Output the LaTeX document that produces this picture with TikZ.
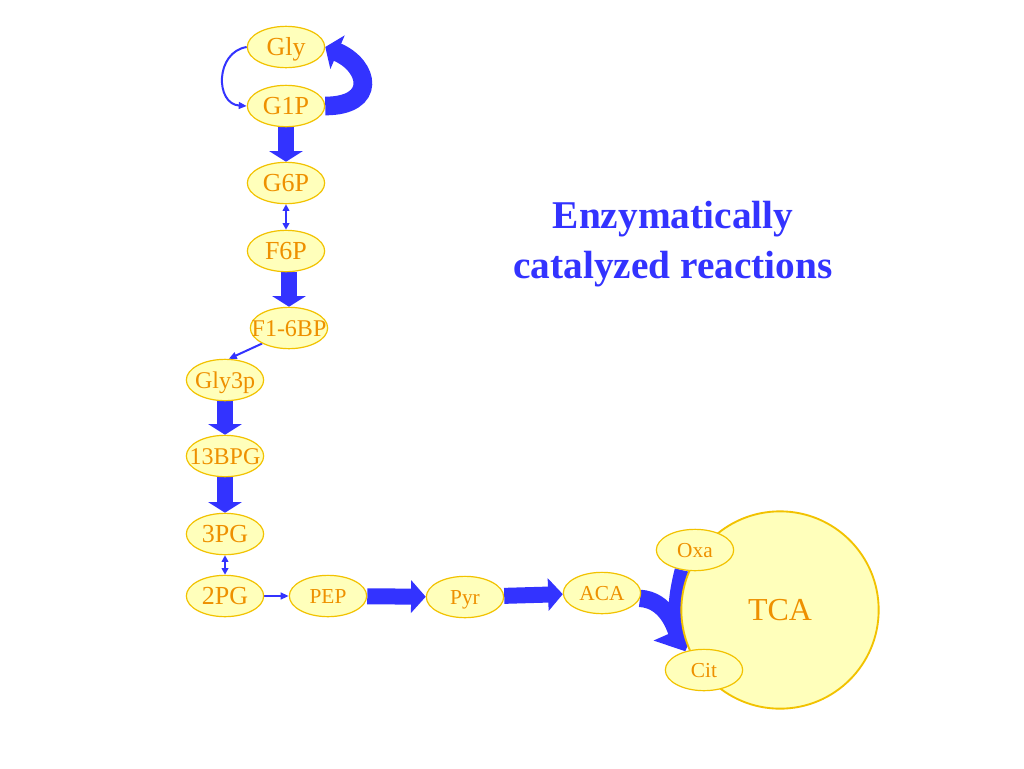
\documentclass[tikz,border=0pt]{standalone}
\usepackage{fontspec}
\setmainfont{Liberation Serif}
\usetikzlibrary{shapes.geometric,arrows.meta}
\definecolor{nodefill}{RGB}{255,255,187}
\definecolor{nodeline}{RGB}{242,194,0}
\definecolor{nodetext}{RGB}{238,144,0}
\definecolor{flow}{RGB}{51,51,255}
\pgfdeclarelayer{bottom}
\pgfdeclarelayer{back}
\pgfsetlayers{bottom,back,main}
\newcommand{\mlab}[1]{\makebox[0pt]{#1}}
\begin{document}
\begin{tikzpicture}[x=0.75pt,y=-0.75pt,
  met/.style={ellipse,draw=nodeline,fill=nodefill,line width=0.9pt,inner sep=0pt,
    minimum width=58pt,minimum height=31pt,text=nodetext,text height=12.5pt,text depth=0pt,
    font=\fontsize{19.5}{20}\selectfont},
  metmid/.style={met,text height=12pt,font=\fontsize{18}{19}\selectfont},
  metsmall/.style={met,text height=10.5pt,text depth=0pt,font=\fontsize{16}{17}\selectfont},
  thinarrow/.style={draw=flow,line width=1.5pt,-{Triangle[length=6pt,width=5pt]}},
  thinboth/.style={draw=flow,line width=1.5pt,{Triangle[length=5pt,width=5pt]}-{Triangle[length=5pt,width=5pt]}},
  blockv/.style={draw=flow,line width=12pt,-{Triangle[length=8pt,width=25pt]}},
  blockh/.style={draw=flow,line width=12pt,-{Triangle[length=11pt,width=24pt]}},
  title/.style={text=flow,align=center,font=\bfseries\fontsize{29.5}{37.5}\selectfont},
]
\begin{pgfonlayer}{bottom}
  \fill[white] (0,0) rectangle (1024,768);
\end{pgfonlayer}
\useasboundingbox (0,0) rectangle (1024,768);

% metabolites
\node[met] (Gly) at (286,47) {\mlab{Gly}};
\node[met] (G1P) at (286,106) {\mlab{G1P}};
\node[met] (G6P) at (286,183) {\mlab{G6P}};
\node[met] (F6P) at (286,251) {\mlab{F6P}};
\node[metmid] (F16BP) at (289,328) {\mlab{F1-6BP}};
\node[metmid] (Gly3p) at (225,380) {\mlab{Gly3p}};
\node[metmid] (BPG13) at (225,456) {\mlab{13BPG}};
\node[met] (PG3) at (225,534) {\mlab{3PG}};
\node[met] (PG2) at (225,596) {\mlab{2PG}};
\node[metsmall] (PEP) at (328,596) {\mlab{PEP}};
\node[metsmall] (Pyr) at (465,597) {\mlab{Pyr}};
\node[metsmall] (ACA) at (602,593) {\mlab{ACA}};
\node[circle,draw=nodeline,fill=nodefill,line width=1.4pt,minimum size=148pt,inner sep=0pt,
  text=nodetext,font=\fontsize{24}{25}\selectfont] (TCA) at (780,610) {TCA};
\node[metsmall] (Oxa) at (695,550) {\mlab{Oxa}};
\node[metsmall] (Cit) at (704,670) {\mlab{Cit}};

\node[title] (T) at (673,244) {Enzymatically\\catalyzed reactions};

\coordinate (merge) at (678,636);

\begin{pgfonlayer}{back}
  % glycogen cycle
  \draw[thinarrow] (Gly.west) .. controls (215,52) and (215,104) .. (G1P.west);
  \draw[draw=flow,line width=14pt,-{Triangle[length=10pt,width=27pt]}]
    (G1P.east) .. controls (377,106) and (370,66) .. (Gly.east);
  % glycolysis
  \draw[blockv] (G1P) -- (G6P);
  \draw[thinboth] (G6P) -- (F6P);
  \draw[blockv] (F6P.south -| F16BP) -- (F16BP.north);
  \draw[thinarrow] (F16BP.210) -- (Gly3p.80);
  \draw[blockv] (Gly3p) -- (BPG13);
  \draw[blockv] (BPG13) -- (PG3);
  \draw[thinboth] (PG3) -- (PG2);
  \draw[thinarrow] (PG2) -- (PEP);
  \draw[blockh] (PEP) -- (Pyr);
  \draw[blockh] (Pyr) -- (ACA);
  % entry into TCA
  \draw[draw=flow,line width=11pt] (Oxa.237) .. controls (677,590) and (673,612) .. (merge);
  \draw[draw=flow,line width=13pt,-{Triangle[length=17pt,width=36pt]}]
    (ACA.-8) .. controls (667,600) and (675,628) .. (Cit.135);
\end{pgfonlayer}
\end{tikzpicture}
\end{document}
